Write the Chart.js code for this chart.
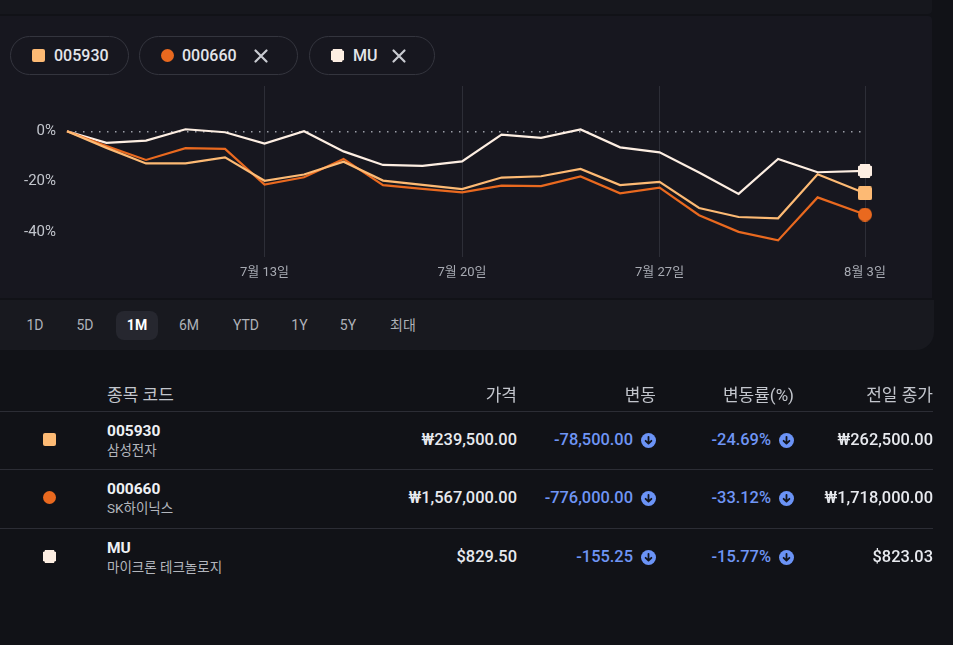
<!DOCTYPE html>
<html>
<head>
<meta charset="utf-8">
<script src="https://cdn.jsdelivr.net/npm/chart.js@4/dist/chart.umd.min.js"></script>
<style>
  html,body{margin:0;padding:0;background:#111217;width:953px;height:645px;overflow:hidden;
    font-family:Roboto,"Noto Sans CJK KR",sans-serif;color:#e6e8ee;}
  .abs{position:absolute;}
  .card{position:absolute;background:#17181f;}
  .chip{position:absolute;top:36px;height:37px;border:1px solid #34353e;border-radius:20px;box-sizing:content-box;}
  .chip span{position:absolute;top:0;line-height:37px;font-size:16px;font-weight:500;color:#e3e5ea;}
  .ico{position:absolute;width:13px;height:13px;}
  .xic{position:absolute;width:16px;height:16px;}
  .rng{position:absolute;top:316px;height:18px;line-height:18px;font-size:14px;color:#aeb1b8;transform:translateX(-50%);white-space:nowrap;}
  .hdr{position:absolute;top:384px;line-height:22px;font-size:17px;color:#c2c5cc;white-space:nowrap;}
  .line{position:absolute;left:0;width:933px;height:1px;background:#2c2d35;}
  .cell{position:absolute;font-size:16.4px;font-weight:500;white-space:nowrap;line-height:20px;}
  .blue{color:#6f95f5;}
  .arr{position:absolute;width:15px;height:15px;}
</style>
</head>
<body>
<div class="card" style="left:-20px;top:-20px;width:952px;height:34px;border-radius:0 0 4px 0;background:#16171d;"></div>
<div class="card" style="left:-20px;top:16px;width:952px;height:282px;border-radius:0 4px 0 0;background:#17171f;"></div>
<div class="card" style="left:-20px;top:300px;width:954px;height:50px;border-radius:0 0 18px 18px;background:#18191f;"></div>

<div id="chips"></div>
<div id="ranges"></div>

<div class="abs" style="left:0;top:76px;width:934px;height:214px;">
  <canvas id="c"></canvas>
</div>

<div id="table"></div>

<script>
// ---------- DATA ----------
const dates = ['7/6','7/7','7/8','7/9','7/10','7/13','7/14','7/15','7/16','7/17','7/20','7/21','7/22','7/23','7/24','7/27','7/28','7/29','7/30','7/31','8/3'];
const xPos = [0,1,2,3,4,5,6,7,8,9,10,11,12,13,14,15,16,17,18,19,20.2];
const s005930 = [0,-6.6,-12.8,-12.8,-10.4,-19.7,-17.2,-12.1,-19.6,-21.3,-23.0,-18.4,-17.9,-15.0,-21.4,-20.1,-30.5,-34.1,-34.6,-17.1,-24.69];
const s000660 = [0,-5.9,-11.4,-6.7,-7.0,-21.2,-18.3,-11.0,-21.4,-22.9,-24.3,-21.6,-21.8,-18.0,-24.7,-22.4,-33.4,-40.0,-43.4,-26.3,-33.12];
const sMU     = [0,-4.6,-3.7,0.8,-0.4,-4.9,0.0,-8.0,-13.4,-13.8,-12.0,-1.3,-2.6,0.7,-6.4,-8.4,-16.4,-24.9,-11.0,-16.3,-15.77];
const xTickValues = [5,10,15,20.2];
const xTickLabels = ['7월 13일','7월 20일','7월 27일','8월 3일'];
const yTickValues = [0,-20,-40];
const yMin = -50, yMax = 18;

const tickers = ['005930','000660','MU'];
const names = ['삼성전자','SK하이닉스','마이크론 테크놀로지'];
const prices = ['₩239,500.00','₩1,567,000.00','$829.50'];
const changes = ['-78,500.00','-776,000.00','-155.25'];
const changePct = ['-24.69%','-33.12%','-15.77%'];
const prevClose = ['₩262,500.00','₩1,718,000.00','$823.03'];
const ranges = ['1D','5D','1M','6M','YTD','1Y','5Y','최대'];
const activeRange = '1M';

const colors = ['#fdba74','#e9691f','#fdeee2'];
const shapes = ['square','circle','notch'];

// ---------- markers ----------
function marker(shape,color,size){
  const c=document.createElement('canvas');c.width=size;c.height=size;
  const g=c.getContext('2d');g.fillStyle=color;
  if(shape==='circle'){g.beginPath();g.arc(size/2,size/2,size/2,0,Math.PI*2);g.fill();}
  else if(shape==='square'){g.beginPath();g.roundRect(0,0,size,size,2);g.fill();}
  else{const n=2.2;g.beginPath();
    g.moveTo(n,0);g.lineTo(size-n,0);g.quadraticCurveTo(size-n,n,size,n);g.lineTo(size,size-n);
    g.quadraticCurveTo(size-n,size-n,size-n,size);g.lineTo(n,size);g.quadraticCurveTo(n,size-n,0,size-n);
    g.lineTo(0,n);g.quadraticCurveTo(n,n,n,0);g.fill();}
  return c;
}
function iconHTML(shape,color,left,top){
  const r = shape==='circle'?'50%':(shape==='square'?'2px':'0');
  const clip = shape==='notch'?'clip-path:polygon(15% 0,85% 0,88% 12%,100% 15%,100% 85%,88% 88%,85% 100%,15% 100%,12% 88%,0 85%,0 15%,12% 12%);':'';
  return `<div class="ico" style="left:${left}px;top:${top}px;background:${color};border-radius:${r};${clip}"></div>`;
}
const xSvg = '<svg viewBox="0 0 16 16" width="16" height="16"><path d="M2.5 2.5L13.5 13.5M13.5 2.5L2.5 13.5" stroke="#c9cbd1" stroke-width="2.2" stroke-linecap="round"/></svg>';
const arrSvg = '<svg viewBox="0 0 15 15" width="15" height="15"><circle cx="7.5" cy="7.5" r="7.5" fill="#6b93f6"/><path d="M7.5 3.8V10.6M4.6 7.8L7.5 10.7L10.4 7.8" stroke="#12141b" stroke-width="1.8" fill="none" stroke-linecap="round" stroke-linejoin="round"/></svg>';

// ---------- chips ----------
const chipDefs=[{l:10,w:119,ic:21,tx:43,x:null},{l:139,w:159,ic:21,tx:42,x:113},{l:309,w:126,ic:21,tx:43,x:81}];
let ch='';
chipDefs.forEach((d,i)=>{
  ch+=`<div class="chip" style="left:${d.l}px;width:${d.w-2}px;">${iconHTML(shapes[i],colors[i],d.ic,12)}<span style="left:${d.tx}px">${tickers[i]}</span>${d.x!==null?`<div class="xic" style="left:${d.x}px;top:11px">${xSvg}</div>`:''}</div>`;
});
document.getElementById('chips').innerHTML=ch;

// ---------- ranges ----------
const rangeX=[35,85,137,189,246,299.5,348,403];
let rh=`<div class="abs" style="left:116px;top:311px;width:42px;height:29px;border-radius:8px;background:#26272f;"></div>`;
ranges.forEach((r,i)=>{
  const act=r===activeRange;
  rh+=`<div class="rng" style="left:${rangeX[i]}px;${act?'color:#ffffff;font-weight:700;':''}">${r}</div>`;
});
document.getElementById('ranges').innerHTML=rh;

// ---------- table ----------
let th='';
th+=`<div class="hdr" style="left:107px">종목 코드</div>`;
th+=`<div class="hdr" style="right:${953-517}px">가격</div>`;
th+=`<div class="hdr" style="right:${953-656}px">변동</div>`;
th+=`<div class="hdr" style="right:${953-794}px">변동률(%)</div>`;
th+=`<div class="hdr" style="right:${953-933}px">전일 종가</div>`;
const rowTop=[411,469,528];
rowTop.forEach((t,i)=>{
  th+=`<div class="line" style="top:${t}px"></div>`;
  const cy=t+29;
  th+=iconHTML(shapes[i],colors[i],43,cy-7);
  th+=`<div class="abs" style="left:107px;top:${cy-19}px;font-size:15.5px;font-weight:700;color:#eef0f4;line-height:20px">${tickers[i]}</div>`;
  th+=`<div class="abs" style="left:107px;top:${cy+1}px;font-size:13.5px;color:#b3b6bd;line-height:18px;white-space:nowrap">${names[i]}</div>`;
  th+=`<div class="cell" style="right:${953-517}px;top:${cy-10}px;color:#e8eaef">${prices[i]}</div>`;
  th+=`<div class="cell blue" style="right:${953-633}px;top:${cy-10}px">${changes[i]}</div>`;
  th+=`<div class="arr" style="left:641px;top:${cy-7}px">${arrSvg}</div>`;
  th+=`<div class="cell blue" style="right:${953-771}px;top:${cy-10}px">${changePct[i]}</div>`;
  th+=`<div class="arr" style="left:779px;top:${cy-7}px">${arrSvg}</div>`;
  th+=`<div class="cell" style="right:${953-933}px;top:${cy-10}px;color:#e8eaef">${prevClose[i]}</div>`;
});
document.getElementById('table').innerHTML=th;

// ---------- chart ----------
const series=[s005930,s000660,sMU];
const last=dates.length-1;
const datasets=series.map((s,i)=>({
  label:tickers[i],
  data:s.map((v,j)=>({x:xPos[j],y:v})),
  borderColor:colors[i],
  backgroundColor:colors[i],
  borderWidth:2.2,
  tension:0,
  pointStyle:marker(shapes[i],colors[i],14),
  pointRadius:ctx=>ctx.dataIndex===last?7:0,
  clip:false
}));

new Chart(document.getElementById('c'),{
  type:'line',
  data:{datasets},
  options:{
    responsive:true,maintainAspectRatio:false,animation:false,events:[],
    layout:{padding:{top:10,right:69,left:0,bottom:0}},
    plugins:{legend:{display:false},tooltip:{enabled:false}},
    scales:{
      x:{type:'linear',min:0,max:xPos[last],
        afterBuildTicks:s=>{s.ticks=xTickValues.map(v=>({value:v}));},
        afterFit:s=>{s.height=33;s.paddingLeft=0;s.paddingRight=0;},
        ticks:{callback:(v,i)=>xTickLabels[i],color:'#a7aab2',font:{family:'Roboto, "Noto Sans CJK KR"',size:13},padding:8,maxRotation:0,autoSkip:false},
        grid:{color:'#2d2e37',lineWidth:1,drawTicks:false},
        border:{display:false}
      },
      y:{type:'linear',min:yMin,max:yMax,
        afterBuildTicks:s=>{s.ticks=yTickValues.map(v=>({value:v}));},
        afterFit:s=>{s.width=67;s.paddingTop=0;s.paddingBottom=0;},
        ticks:{callback:v=>v+'%',color:'#c3c6cd',font:{family:'Roboto, "Noto Sans CJK KR"',size:15},padding:11},
        grid:{color:c=>c.tick&&c.tick.value===0?'#9a9da6':'transparent',lineWidth:1.5,drawTicks:false},
        border:{display:false,dash:[1.5,6.5]}
      }
    }
  }
});
</script>
</body>
</html>
